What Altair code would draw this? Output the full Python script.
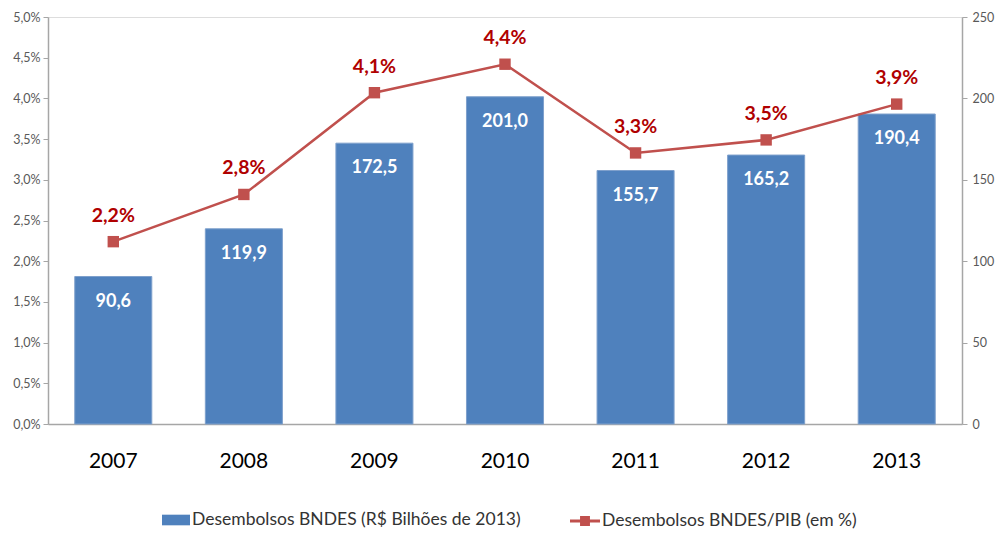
import altair as alt
import pandas as pd

years = ["2007", "2008", "2009", "2010", "2011", "2012", "2013"]
desembolsos = [90.6, 119.9, 172.5, 201.0, 155.7, 165.2, 190.4]
pib_pct = [2.24, 2.82, 4.07, 4.42, 3.33, 3.49, 3.93]
serie_bar = "Desembolsos BNDES (R$ Bilhões de 2013)"
serie_line = "Desembolsos BNDES/PIB (em %)"
left_ticks = [0, 0.5, 1, 1.5, 2, 2.5, 3, 3.5, 4, 4.5, 5]
right_ticks = [0, 50, 100, 150, 200, 250]

df = pd.DataFrame({
    "ano": years,
    "desembolsos": desembolsos,
    "pib": pib_pct,
    "serie_bar": [serie_bar] * len(years),
    "serie_line": [serie_line] * len(years),
})

FONT = "Lato"
BLUE = "#4F81BD"
RED = "#C0504D"
DARKRED = "#B00000"
GRID = "#A6A6A6"

RECT_PATH = "M-1,-0.38H1V0.38H-1Z"
LINE_SQ_PATH = "M-1,-0.1H1V0.1H-1Z M-0.33,-0.33H0.33V0.33H-0.33Z"

x_enc = alt.X("ano:N", sort=years, title=None,
              scale=alt.Scale(paddingInner=0.41, paddingOuter=0.205),
              axis=alt.Axis(labelAngle=0, labelFontSize=21, labelColor="#000000",
                            labelFont=FONT, ticks=False, labelPadding=26,
                            domainColor=GRID, domainWidth=1.5))

leg_common = dict(title=None, orient="none", direction="horizontal",
                  labelFontSize=17.5, labelFont=FONT,
                  labelColor="#333333", labelOffset=2, labelLimit=0)

base = alt.Chart(df)

bars = base.mark_bar(stroke="#7EA0CC", strokeWidth=1).encode(
    x=x_enc,
    y=alt.Y("desembolsos:Q", title=None,
            scale=alt.Scale(domain=[0, 250], nice=False, zero=True),
            axis=alt.Axis(orient="right", values=right_ticks, grid=False,
                          labelFontSize=12.5, labelFont=FONT, labelColor="#595959",
                          tickColor=GRID, domainColor=GRID, tickSize=5,
                          domainWidth=1.5, labelPadding=5)),
    color=alt.Color("serie_bar:N", scale=alt.Scale(domain=[serie_bar], range=[BLUE]),
                    legend=alt.Legend(legendX=114, legendY=489, symbolType=RECT_PATH,
                                      symbolSize=784, symbolStrokeWidth=0,
                                      **leg_common)),
)

bar_text = base.mark_text(color="white", fontWeight="bold", fontSize=18, font=FONT,
                          baseline="middle", dy=25).transform_calculate(
    lbl="replace(format(datum.desembolsos, '.1f'), '.', ',')"
).encode(
    x=alt.X("ano:N", sort=years),
    y=alt.Y("desembolsos:Q", scale=alt.Scale(domain=[0, 250], nice=False), axis=None),
    text="lbl:N",
)

line = base.mark_line(strokeWidth=2.5, color=RED).encode(
    x=alt.X("ano:N", sort=years),
    y=alt.Y("pib:Q", title=None,
            scale=alt.Scale(domain=[0, 5], nice=False, zero=True),
            axis=alt.Axis(orient="left", values=left_ticks, grid=False,
                          labelExpr="replace(format(datum.value, '.1f'), '.', ',') + '%'",
                          labelFontSize=12.5, labelFont=FONT, labelColor="#595959",
                          tickColor=GRID, domainColor=GRID, tickSize=5,
                          domainWidth=1.5, labelPadding=3)),
)

points = base.mark_point(shape="square", filled=True, size=130, opacity=1,
                         color=RED).encode(
    x=alt.X("ano:N", sort=years),
    y=alt.Y("pib:Q", scale=alt.Scale(domain=[0, 5], nice=False), axis=None),
)

line_legend = base.mark_point(filled=True, color=RED, opacity=1).transform_filter(
    "false"
).encode(
    x=alt.X("ano:N", sort=years),
    y=alt.Y("pib:Q", scale=alt.Scale(domain=[0, 5], nice=False), axis=None),
    shape=alt.Shape("serie_line:N",
                    scale=alt.Scale(domain=[serie_line], range=[LINE_SQ_PATH]),
                    legend=alt.Legend(legendX=522, legendY=489, symbolSize=900,
                                      symbolFillColor=RED, symbolStrokeColor=RED,
                                      symbolStrokeWidth=0, symbolOpacity=1,
                                      **leg_common)),
)

line_text = base.mark_text(color=DARKRED, fontWeight="bold", fontSize=19.5, font=FONT,
                           baseline="middle", dy=-26).transform_calculate(
    lbl="replace(format(datum.pib, '.1f'), '.', ',') + '%'"
).encode(
    x=alt.X("ano:N", sort=years),
    y=alt.Y("pib:Q", scale=alt.Scale(domain=[0, 5], nice=False), axis=None),
    text="lbl:N",
)

chart = alt.layer(bars, bar_text, line, points, line_text, line_legend).resolve_scale(
    y="independent"
).properties(
    width=914, height=407,
    padding={"left": 40, "top": 9, "right": 37, "bottom": 107},
    autosize=alt.AutoSizeParams(type="none"),
).configure_view(stroke=None).configure(background="white")

chart.save("out.html", embed_options={"renderer": "svg", "actions": False})
